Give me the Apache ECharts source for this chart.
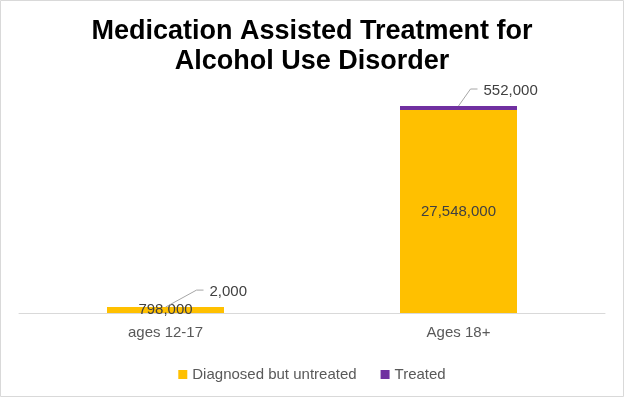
<!DOCTYPE html>
<html>
<head>
<meta charset="utf-8">
<script src="https://cdn.jsdelivr.net/npm/echarts@6/dist/echarts.min.js"></script>
<style>
  html, body { margin: 0; padding: 0; background: #fff; }
  #chart { width: 624px; height: 397px; }
</style>
</head>
<body>
<div id="chart"></div>
<script>
const categories = ['ages 12-17', 'Ages 18+']
const untreated = [798000, 27548000]
const treated = [2000, 552000]
const seriesNames = ['Diagnosed but untreated', 'Treated']

// leader line offsets for the "Treated" callouts (diagonal dx, dy)
const callout = [[31, -17], [12, -17]]

const fmt = v => v.toLocaleString('en-US')
const txtFont = 'Liberation Sans, Arial, sans-serif'

var chart = echarts.init(document.getElementById('chart'), null, { renderer: 'canvas' })

chart.setOption({
  animation: false,
  title: {
    text: 'Medication Assisted Treatment for\nAlcohol Use Disorder',
    left: 'center',
    top: 12,
    textStyle: { fontFamily: txtFont, fontWeight: 'bold', fontSize: 27, lineHeight: 30, color: '#000' }
  },
  graphic: [{
    type: 'rect',
    shape: { x: 0.5, y: 0.5, width: 623, height: 396 },
    style: { fill: 'none', stroke: '#d9d9d9', lineWidth: 1 },
    silent: true
  }],
  legend: {
    top: 362,
    left: 'center',
    itemWidth: 9,
    itemHeight: 9,
    itemGap: 24,
    icon: 'rect',
    textStyle: { fontFamily: txtFont, fontSize: 15, color: '#595959' },
    data: seriesNames
  },
  grid: { left: 19, right: 19, top: 106, bottom: 84, containLabel: false },
  xAxis: {
    type: 'category',
    data: categories,
    axisTick: { show: false },
    axisLine: { lineStyle: { color: '#d9d9d9' } },
    axisLabel: { fontFamily: txtFont, fontSize: 15, color: '#595959', margin: 12 }
  },
  yAxis: {
    type: 'value',
    min: 0,
    max: 28100000,
    show: false,
    splitLine: { show: false }
  },
  series: [
    {
      name: seriesNames[0],
      type: 'bar',
      stack: 'total',
      barWidth: 117,
      data: untreated,
      itemStyle: { color: '#FFC000' },
      label: {
        show: true,
        position: 'inside',
        formatter: p => fmt(p.value),
        fontFamily: txtFont,
        fontSize: 15,
        color: '#404040'
      }
    },
    {
      name: seriesNames[1],
      type: 'bar',
      stack: 'total',
      barWidth: 117,
      data: treated,
      itemStyle: { color: '#7030A0' }
    },
    {
      // callout labels with leader lines for the treated values
      type: 'custom',
      silent: true,
      z: 10,
      data: categories.map((c, i) => [i, untreated[i] + treated[i], treated[i]]),
      renderItem: function (params, api) {
        var i = params.dataIndex
        var p = api.coord([api.value(0), api.value(1)])
        var off = callout[i]
        var mid = [p[0] + off[0], p[1] + off[1]]
        var end = [mid[0] + 7, mid[1]]
        return {
          type: 'group',
          children: [
            {
              type: 'polyline',
              shape: { points: [p, mid, end] },
              style: { stroke: '#a6a6a6', lineWidth: 1, fill: null }
            },
            {
              type: 'text',
              x: end[0] + 6,
              y: end[1] + 2,
              style: {
                text: fmt(api.value(2)),
                font: '15px ' + txtFont,
                fill: '#404040',
                align: 'left',
                verticalAlign: 'middle'
              }
            }
          ]
        }
      }
    }
  ]
})
</script>
</body>
</html>
